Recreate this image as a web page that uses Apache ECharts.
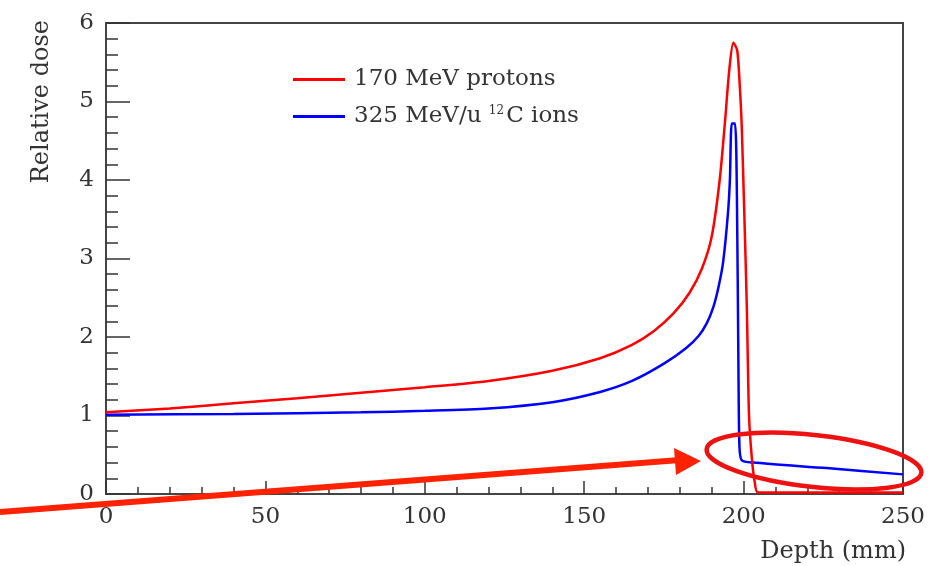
<!DOCTYPE html>
<html>
<head>
<meta charset="utf-8">
<script src="https://cdn.jsdelivr.net/npm/echarts@6/dist/echarts.min.js"></script>
<style>html,body{margin:0;padding:0;background:#fff}#c{width:943px;height:566px}</style>
</head>
<body>
<div id="c"></div>
<script>
// Data
const protonDepth = [0, 20, 40, 60, 80, 100, 120, 140, 155, 165, 172, 178, 183, 187, 190, 192.5, 194.2, 195.5, 196.8, 198, 198.8, 199.4, 200.2, 201, 201.7, 202.6, 203.5, 204.5, 250];
const protonDose  = [1.04, 1.09, 1.155, 1.22, 1.29, 1.36, 1.44, 1.57, 1.73, 1.90, 2.08, 2.30, 2.56, 2.88, 3.28, 4.0, 4.76, 5.4, 5.75, 5.65, 5.2, 4.7, 3.6, 2.4, 1.0, 0.45, 0.15, 0.02, 0.02];
const carbonDepth = [0, 40, 80, 100, 120, 140, 155, 165, 175, 182, 186, 188.5, 190.5, 192.2, 193.6, 195.1, 195.7, 196.3, 197.3, 197.9, 198.4, 198.7, 199.4, 203, 226, 250];
const carbonDose  = [1.01, 1.02, 1.04, 1.06, 1.09, 1.17, 1.30, 1.44, 1.66, 1.86, 2.02, 2.18, 2.38, 2.65, 2.96, 3.58, 4.0, 4.72, 4.72, 3.8, 1.5, 0.6, 0.43, 0.40, 0.33, 0.25];
const seriesNames = ['170 MeV protons', '325 MeV/u 12C ions'];
const xTicks = [0, 50, 100, 150, 200, 250];
const yTicks = [0, 1, 2, 3, 4, 5, 6];

const FONT = 'DejaVu Serif';
const chart = echarts.init(document.getElementById('c'), null, {renderer: 'canvas'});
const zip = (a, b) => a.map((v, i) => [v, b[i]]);

chart.setOption({
  animation: false,
  backgroundColor: '#fff',
  grid: {left: 106, right: 40, top: 23, bottom: 72, show: true, borderColor: '#444', borderWidth: 2, backgroundColor: 'transparent'},
  legend: {
    orient: 'vertical', left: 288, top: 63, itemGap: 14, itemWidth: 52, itemHeight: 3, icon: 'rect',
    data: seriesNames,
    formatter: function (n) { return n === seriesNames[1] ? '{a|325 MeV/u }{s|12}{a|C ions}' : '{a|' + n + '}'; },
    textStyle: {fontFamily: FONT, fontSize: 23, color: '#333', padding: [0, 0, 0, 4],
      rich: {a: {fontFamily: FONT, fontSize: 23, color: '#333'}, s: {fontFamily: FONT, fontSize: 12, color: '#333', verticalAlign: 'top', padding: [0, 2, 8, 0]}}}
  },
  xAxis: {
    type: 'value', min: xTicks[0], max: xTicks[xTicks.length - 1], interval: 50,
    axisLine: {show: true, lineStyle: {color: '#444', width: 2}},
    axisTick: {show: true, inside: true, length: 13, lineStyle: {color: '#333', width: 1.5}},
    minorTick: {show: true, splitNumber: 5, length: 7, lineStyle: {color: '#333', width: 1.5}},
    axisLabel: {fontFamily: FONT, fontSize: 23, color: '#333', margin: 12},
    splitLine: {show: false}
  },
  yAxis: {
    type: 'value', min: yTicks[0], max: yTicks[yTicks.length - 1], interval: 1,
    axisLine: {show: true, lineStyle: {color: '#444', width: 2}},
    axisTick: {show: true, inside: true, length: 24, lineStyle: {color: '#333', width: 1.5}},
    minorTick: {show: true, splitNumber: 5, length: 12, lineStyle: {color: '#333', width: 1.5}},
    axisLabel: {fontFamily: FONT, fontSize: 23, color: '#333', margin: 12},
    splitLine: {show: false}
  },
  series: [
    {name: seriesNames[0], type: 'line', data: zip(protonDepth, protonDose), showSymbol: false, smooth: 0.25,
     lineStyle: {color: '#ff0000', width: 2.5}, itemStyle: {color: '#ff0000'}, z: 3},
    {name: seriesNames[1], type: 'line', data: zip(carbonDepth, carbonDose), showSymbol: false, smooth: 0.25,
     lineStyle: {color: '#0000ff', width: 2.5}, itemStyle: {color: '#0000ff'}, z: 2}
  ],
  graphic: [
    {type: 'text', x: 42, y: 20, rotation: Math.PI / 2, style: {text: 'Relative dose', fontFamily: FONT, fontSize: 24, fill: '#333', align: 'right', verticalAlign: 'middle'}},
    {type: 'text', x: 906, y: 552, style: {text: 'Depth (mm)', fontFamily: FONT, fontSize: 24, fill: '#333', align: 'right', verticalAlign: 'middle'}},
    {type: 'line', shape: {x1: 0, y1: 512, x2: 680, y2: 460}, style: {stroke: '#ff2200', lineWidth: 6}, z: 100},
    {type: 'polygon', shape: {points: [[701, 461], [674, 448], [676, 475]]}, style: {fill: '#ff2200'}, z: 100},
    {type: 'ellipse', x: 814, y: 461, rotation: -0.11, shape: {cx: 0, cy: 0, rx: 108, ry: 26}, style: {fill: 'none', stroke: '#ee1111', lineWidth: 4.5}, z: 100}
  ]
});
</script>
</body>
</html>
